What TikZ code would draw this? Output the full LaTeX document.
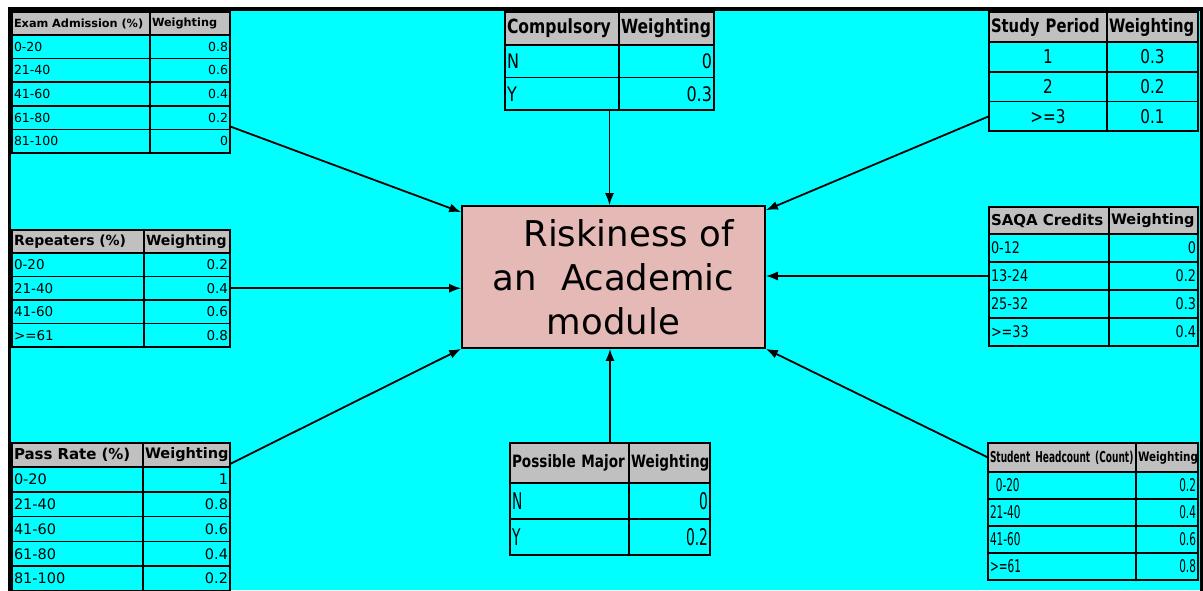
\documentclass[tikz,border=0pt]{standalone}
\usepackage{fontspec}
\setmainfont{DejaVu Sans}
\newfontfamily\narrowfont[FakeStretch=0.8]{DejaVu Sans}
\newfontfamily\narrowerfont[FakeStretch=0.6]{DejaVu Sans}
\usetikzlibrary{positioning,arrows.meta,calc}

\definecolor{bgcyan}{HTML}{00FFFF}
\definecolor{headgray}{HTML}{C0C0C0}
\definecolor{riskpink}{HTML}{E4B9B6}

\newcommand{\tsize}[1]{\fontsize{#1}{#1}\selectfont}

\tikzset{
  cell/.style={draw=black, line width=1.6pt, inner xsep=2pt, inner ysep=0pt, outer sep=0pt,
    execute at begin node={\exhyphenpenalty=10000\hyphenpenalty=10000}},
  hcell/.style={fill=headgray},
  link/.style={line width=1.8pt, -{Latex[length=12pt,width=9pt]}},
}

% name, x, y, col widths, header height, row height, header, rows
\newcommand{\wtable}[9]{%
  \pgfmathsetmacro\cola{#4-4}\pgfmathsetmacro\colb{#5-4}%
  \node[cell, hcell, hl, text width=\cola pt, minimum height=#6pt, anchor=north west] (#1-0-l) at (#2,#3) {#8};
  \node[cell, hcell, hr, text width=\colb pt, minimum height=#6pt, right=0pt of #1-0-l] (#1-0-r) {Weighting};
  \foreach \lab/\val [count=\i] in {#9} {
    \pgfmathtruncatemacro\j{\i-1}
    \node[cell, bl, text width=\cola pt, minimum height=#7pt, below=0pt of #1-\j-l] (#1-\i-l) {\lab};
    \node[cell, br, text width=\colb pt, minimum height=#7pt, right=0pt of #1-\i-l] (#1-\i-r) {\val};
  }%
}

\begin{document}
\begin{tikzpicture}[x=1pt, y=-1pt]
\useasboundingbox (0,0) rectangle (1203,590);
\fill[white] (0,0) rectangle (1203,590);
\fill[bgcyan] (9,9) rectangle (1203,590);
\draw[line width=3.5pt] (9.5,592) -- (9.5,9) -- (1201.5,9) -- (1201.5,592);

\begin{scope}[hl/.style={font=\tsize{11.3}\bfseries, align=left}, hr/.style={font=\tsize{11.3}\bfseries, align=left},
  bl/.style={font=\tsize{12.5}, align=left}, br/.style={font=\tsize{12.5}, align=right}]
\wtable{ea}{12}{12}{138}{80}{23}{23.6}{Exam Admission (\%)}{0-20/0.8, 21-40/0.6, 41-60/0.4, 61-80/0.2, 81-100/0}
\end{scope}

\begin{scope}[hl/.style={font=\narrowfont\tsize{19.5}\bfseries, align=left}, hr/.style={font=\narrowfont\tsize{19.5}\bfseries, align=left},
  bl/.style={font=\narrowfont\tsize{20}, align=left}, br/.style={font=\narrowfont\tsize{20}, align=right}]
\wtable{cp}{505}{12}{114}{95}{33}{32.5}{Compulsory}{N/0, Y/0.3}
\end{scope}

\begin{scope}[hl/.style={font=\narrowfont\tsize{18.5}\bfseries, align=left}, hr/.style={font=\narrowfont\tsize{18.5}\bfseries, align=left},
  bl/.style={font=\narrowfont\tsize{19}, align=center}, br/.style={font=\narrowfont\tsize{19}, align=center}]
\wtable{sp}{989}{12}{118}{91}{30}{29.7}{Study Period}{1/0.3, 2/0.2, >=3/0.1}
\end{scope}

\begin{scope}[hl/.style={font=\tsize{14}\bfseries, align=left}, hr/.style={font=\tsize{14}\bfseries, align=left},
  bl/.style={font=\tsize{13.5}, align=left}, br/.style={font=\tsize{13.5}, align=right}]
\wtable{rp}{12}{230}{132}{86}{23}{23.5}{Repeaters (\%)}{0-20/0.2, 21-40/0.4, 41-60/0.6, >=61/0.8}
\end{scope}

\begin{scope}[hl/.style={font=\tsize{15}\bfseries, align=left}, hr/.style={font=\tsize{14.5}\bfseries, align=left},
  bl/.style={font=\narrowfont\tsize{16}, align=left}, br/.style={font=\narrowfont\tsize{16}, align=right}]
\wtable{sq}{989}{207}{120}{89}{27}{28}{SAQA Credits}{0-12/0, 13-24/0.2, 25-32/0.3, >=33/0.4}
\end{scope}

\begin{scope}[hl/.style={font=\tsize{15}\bfseries, align=left}, hr/.style={font=\tsize{14.5}\bfseries, align=left},
  bl/.style={font=\tsize{14.5}, align=left}, br/.style={font=\tsize{14.5}, align=right}]
\wtable{pr}{12}{443}{131}{87}{24}{24.8}{Pass Rate (\%)}{0-20/1, 21-40/0.8, 41-60/0.6, 61-80/0.4, 81-100/0.2}
\end{scope}

\begin{scope}[hl/.style={font=\narrowfont\tsize{17}\bfseries, align=left}, hr/.style={font=\narrowfont\tsize{17}\bfseries, align=left},
  bl/.style={font=\narrowerfont\tsize{23}, align=left}, br/.style={font=\narrowerfont\tsize{23}, align=right}]
\wtable{pm}{510}{443}{119}{81}{40}{36}{Possible Major}{N/0, Y/0.2}
\end{scope}

\begin{scope}[hl/.style={font=\narrowerfont\tsize{15}\bfseries, align=left}, hr/.style={font=\narrowfont\tsize{13}\bfseries, align=left},
  bl/.style={font=\narrowerfont\tsize{17.5}, align=left}, br/.style={font=\narrowerfont\tsize{17.5}, align=right}]
\wtable{sh}{988}{443}{148}{62}{29}{27}{Student Headcount (Count)}{\ 0-20/0.2, 21-40/0.4, 41-60/0.6, >=61/0.8}
\end{scope}

\node[draw=black, line width=1.6pt, fill=riskpink, minimum width=303pt, minimum height=142pt, inner sep=0pt,
  align=center, font=\fontsize{35.5}{44}\selectfont] (risk) at (613.5,277)
  {\hspace*{30pt}Riskiness of\\an\hspace{24pt}Academic\\module};

\coordinate (cp-bot) at ($(cp-2-l.south west)!0.5!(cp-2-r.south east)$);
\coordinate (pm-top) at ($(pm-0-l.north west)!0.5!(pm-0-r.north east)$);

\draw[link] ([yshift=3pt]ea-4-r.south east) -- ([yshift=-7pt]risk.north west);
\draw[link] (cp-bot) -- (cp-bot |- risk.north);
\draw[link] (sp-3-l.west) -- ([yshift=-5pt]risk.north east);
\draw[link] (rp-2-r.east) -- (rp-2-r.east -| risk.west);
\draw[link] (sq-2-l.west) -- (sq-2-l.west -| risk.east);
\draw[link] ([yshift=3pt]pr-0-r.south east) -- (risk.south west);
\draw[link] (pm-top) -- (pm-top |- risk.south);
\draw[link] (sh-0-l.west) -- (risk.south east);
\end{tikzpicture}
\end{document}
